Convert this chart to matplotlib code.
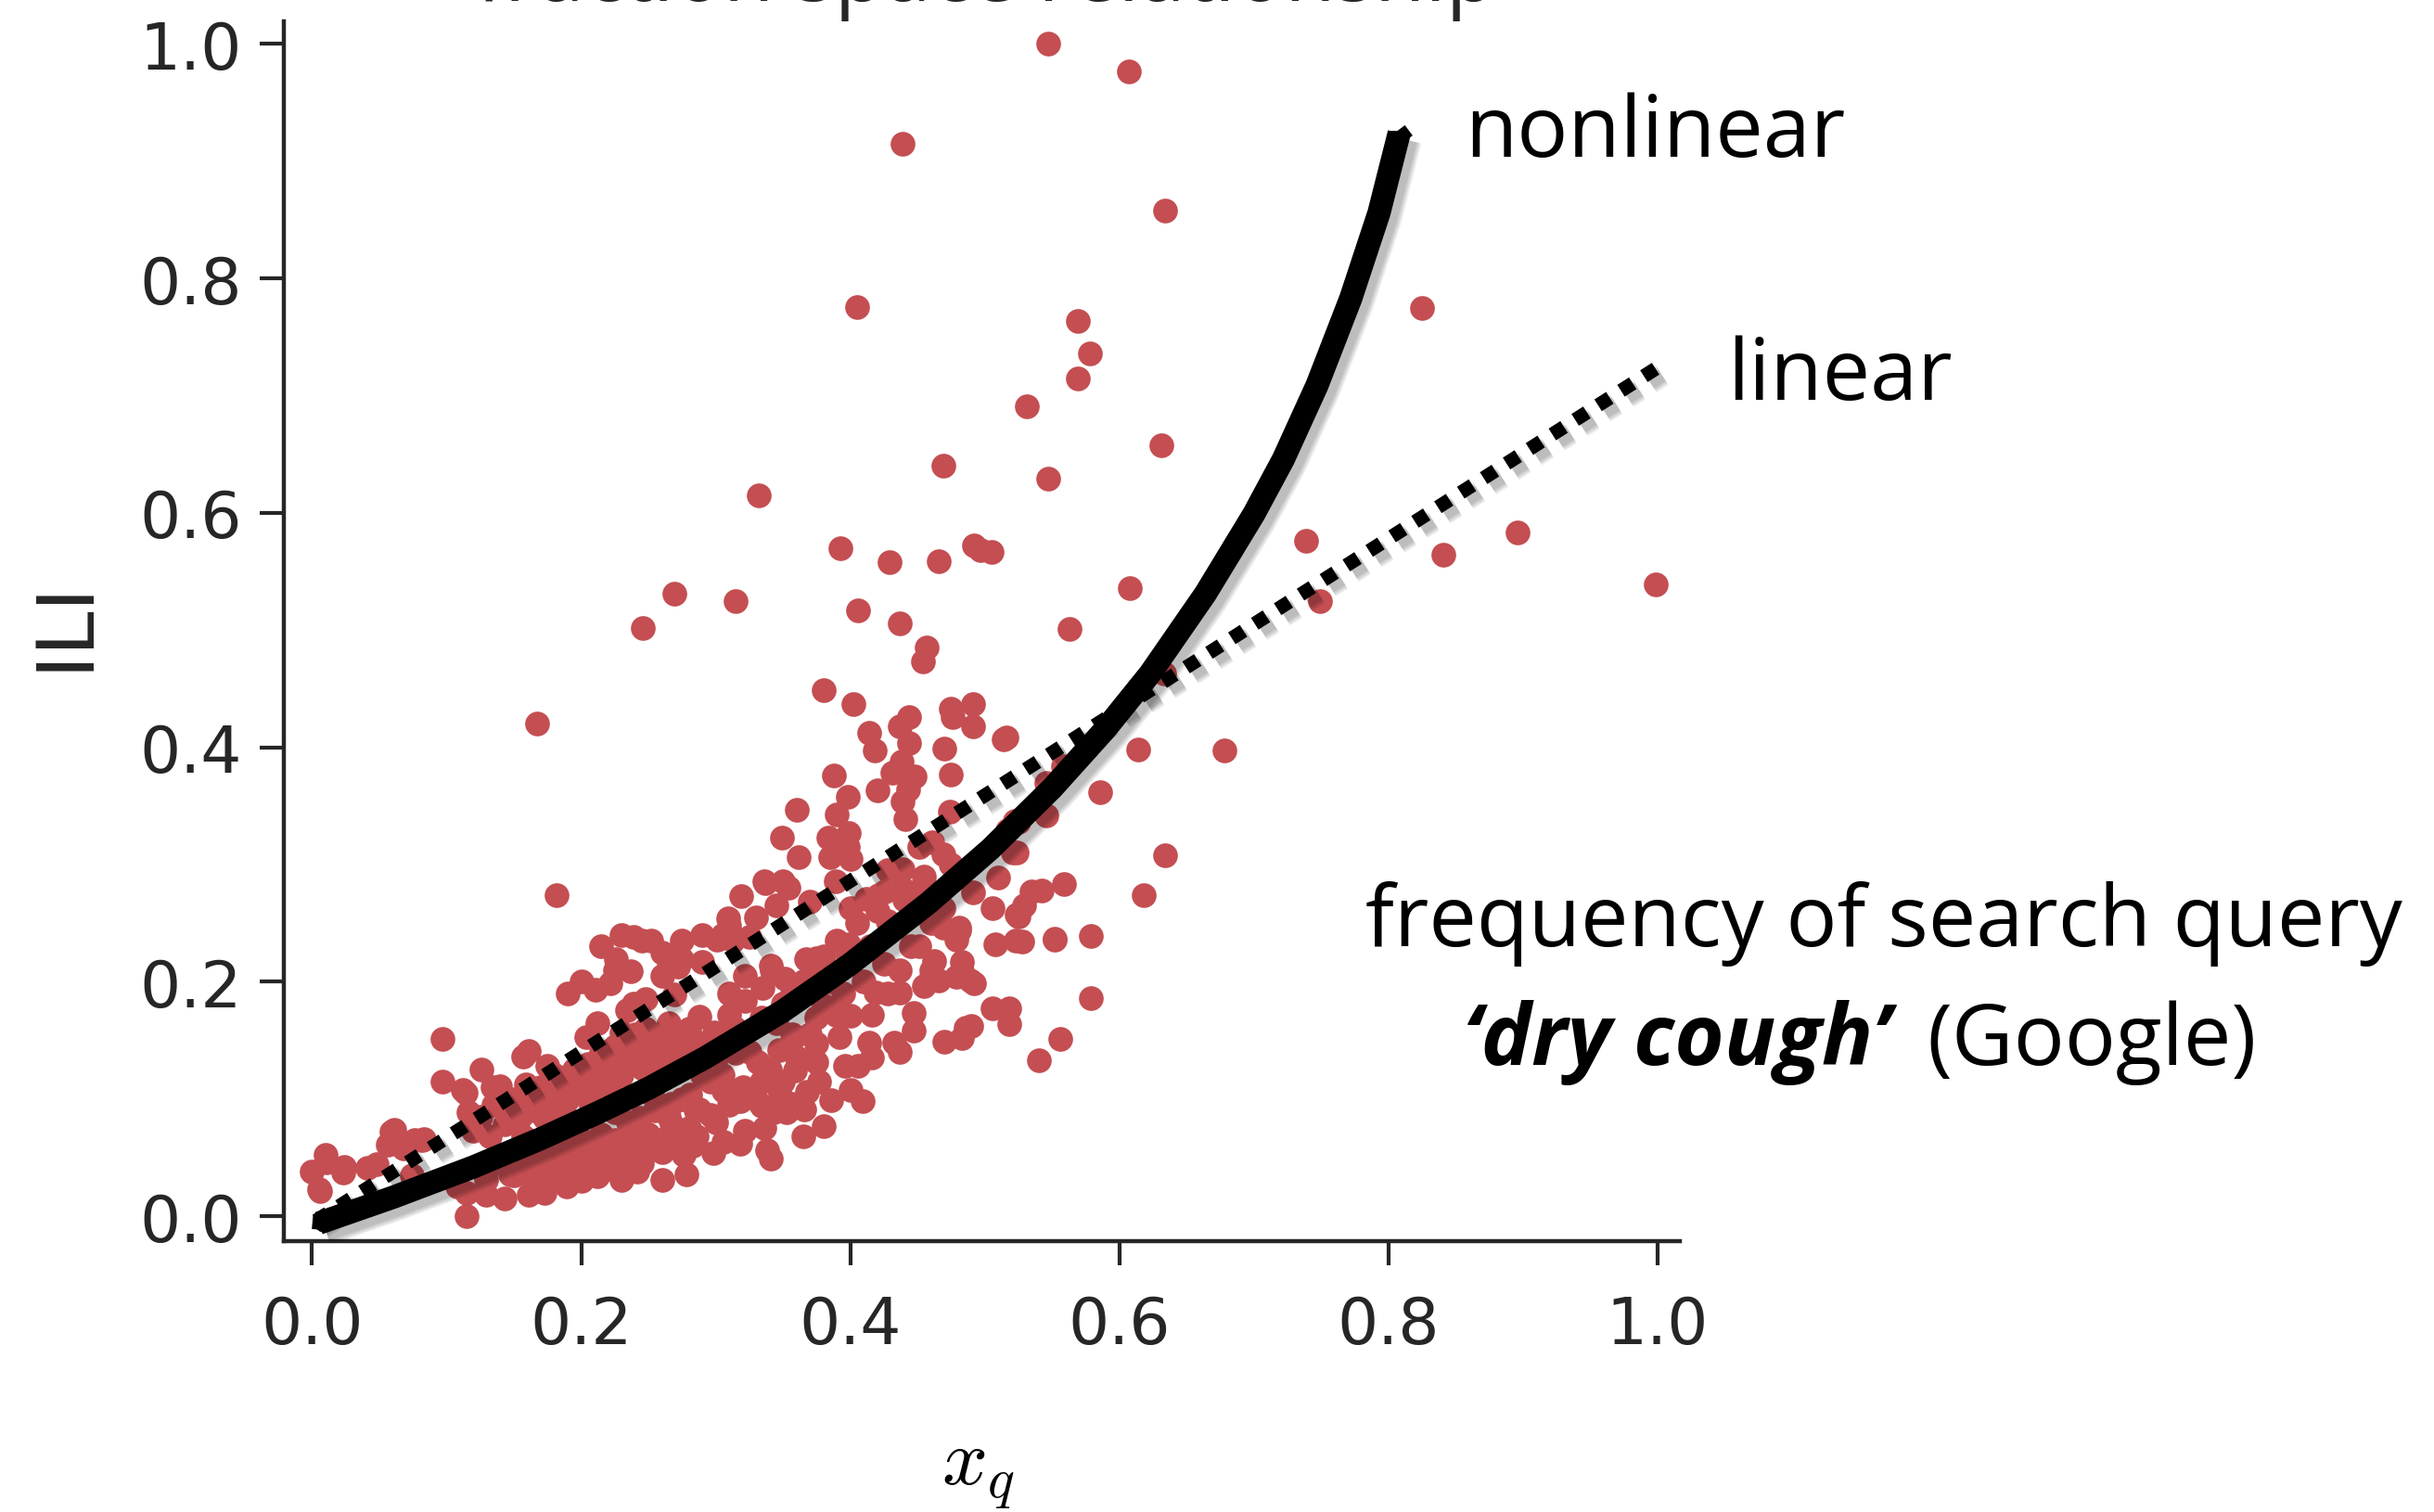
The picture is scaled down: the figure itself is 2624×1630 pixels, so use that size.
import matplotlib
matplotlib.use("Agg")
import matplotlib.pyplot as plt
import matplotlib.patheffects as pe
import numpy as np

plt.rcParams['mathtext.fontset'] = 'cm'

# weekly (query frequency, ILI rate) pairs, both scaled to [0, 1]
outlier_pts = [
    (0.547, 1.000), (0.607, 0.977), (0.439, 0.915), (0.634, 0.858), (0.405, 0.776),
    (0.825, 0.775), (0.569, 0.764), (0.578, 0.736), (0.569, 0.715), (0.531, 0.691),
    (0.631, 0.658), (0.469, 0.640), (0.547, 0.629), (0.332, 0.615), (0.739, 0.576),
    (0.896, 0.583), (0.841, 0.564), (0.999, 0.539), (0.749, 0.525), (0.393, 0.570),
    (0.429, 0.558), (0.466, 0.559), (0.492, 0.572), (0.497, 0.568), (0.505, 0.567),
    (0.269, 0.531), (0.315, 0.525), (0.246, 0.502), (0.406, 0.517), (0.437, 0.506),
    (0.457, 0.485), (0.454, 0.473), (0.563, 0.501), (0.608, 0.536), (0.167, 0.420),
    (0.678, 0.397), (0.614, 0.398), (0.586, 0.362), (0.634, 0.308), (0.618, 0.274),
    (0.182, 0.274), (0.633, 0.463),
]

low_pts = [
    (0.097, 0.151), (0.097, 0.115), (0.112, 0.108), (0.061, 0.074), (0.056, 0.061),
    (0.076, 0.065), (0.083, 0.066), (0.011, 0.046), (0.000, 0.038), (0.023, 0.037),
    (0.005, 0.023), (0.041, 0.041), (0.048, 0.044), (0.074, 0.035), (0.115, 0.000),
    (0.116, 0.089), (0.120, 0.073), (0.134, 0.110), (0.140, 0.111), (0.157, 0.136),
    (0.161, 0.141), (0.175, 0.128), (0.159, 0.112), (0.166, 0.102), (0.182, 0.107),
    (0.193, 0.112), (0.203, 0.120), (0.212, 0.165), (0.204, 0.153), (0.218, 0.129),
    (0.221, 0.110), (0.230, 0.157), (0.232, 0.135), (0.239, 0.181), (0.248, 0.160),
    (0.248, 0.185), (0.211, 0.193), (0.222, 0.199), (0.237, 0.209), (0.225, 0.210),
    (0.260, 0.205), (0.272, 0.213), (0.269, 0.189), (0.288, 0.170), (0.278, 0.147),
    (0.258, 0.131), (0.246, 0.126), (0.281, 0.104), (0.267, 0.096), (0.267, 0.078),
    (0.258, 0.065), (0.244, 0.084), (0.235, 0.068), (0.283, 0.060), (0.278, 0.036),
    (0.260, 0.031), (0.242, 0.038), (0.230, 0.031), (0.212, 0.034), (0.200, 0.044),
    (0.189, 0.025), (0.173, 0.020), (0.161, 0.018), (0.143, 0.015), (0.129, 0.018),
    (0.115, 0.020), (0.129, 0.031), (0.147, 0.036), (0.170, 0.046), (0.182, 0.057),
    (0.198, 0.068), (0.212, 0.057), (0.223, 0.052), (0.157, 0.068), (0.143, 0.078),
    (0.132, 0.068), (0.173, 0.084), (0.189, 0.084), (0.207, 0.094), (0.182, 0.094),
    (0.253, 0.104), (0.288, 0.091), (0.286, 0.068), (0.276, 0.052), (0.246, 0.057),
    (0.225, 0.089), (0.207, 0.107), (0.108, 0.025), (0.290, 0.120), (0.285, 0.149),
    (0.234, 0.176), (0.010, 0.052), (0.006, 0.021), (0.024, 0.042), (0.068, 0.058),
    (0.082, 0.065), (0.059, 0.072), (0.114, 0.105), (0.126, 0.125),
    (0.125, 0.085), (0.135, 0.095), (0.145, 0.090), (0.150, 0.100), (0.155, 0.085),
    (0.165, 0.090), (0.170, 0.110), (0.175, 0.100), (0.180, 0.120), (0.185, 0.115),
    (0.190, 0.100), (0.195, 0.125), (0.200, 0.105), (0.205, 0.130), (0.210, 0.120),
    (0.215, 0.140), (0.220, 0.125), (0.225, 0.145), (0.230, 0.120), (0.235, 0.140),
    (0.240, 0.155), (0.245, 0.145), (0.250, 0.135), (0.255, 0.155), (0.260, 0.145),
    (0.265, 0.165), (0.270, 0.150), (0.275, 0.135), (0.280, 0.160), (0.285, 0.140),
    (0.130, 0.040), (0.140, 0.050), (0.150, 0.035), (0.155, 0.055), (0.160, 0.040),
    (0.165, 0.030), (0.170, 0.060), (0.175, 0.035), (0.180, 0.045), (0.185, 0.035),
    (0.190, 0.060), (0.195, 0.045), (0.200, 0.030), (0.205, 0.060), (0.210, 0.045),
    (0.215, 0.070), (0.220, 0.040), (0.225, 0.065), (0.230, 0.050), (0.235, 0.080),
    (0.240, 0.060), (0.245, 0.045), (0.250, 0.070), (0.255, 0.090), (0.260, 0.055),
    (0.265, 0.085), (0.270, 0.065), (0.275, 0.100), (0.280, 0.075), (0.285, 0.090),
    (0.190, 0.190), (0.200, 0.200), (0.215, 0.230), (0.230, 0.240), (0.245, 0.235),
    (0.260, 0.225), (0.275, 0.235), (0.290, 0.240),
]

mid_pts = [
    (0.579, 0.186), (0.556, 0.151), (0.540, 0.133), (0.518, 0.177), (0.518, 0.164),
    (0.486, 0.161), (0.483, 0.152), (0.470, 0.149), (0.492, 0.199), (0.483, 0.209),
    (0.466, 0.201), (0.455, 0.196), (0.460, 0.210), (0.447, 0.173), (0.447, 0.158),
    (0.437, 0.210), (0.437, 0.191), (0.428, 0.190), (0.419, 0.191), (0.416, 0.172),
    (0.433, 0.148), (0.437, 0.140), (0.414, 0.148), (0.416, 0.135), (0.406, 0.128),
    (0.396, 0.128), (0.392, 0.153), (0.400, 0.171), (0.389, 0.172), (0.375, 0.169),
    (0.375, 0.147), (0.375, 0.131), (0.377, 0.115), (0.386, 0.099), (0.400, 0.108),
    (0.409, 0.098), (0.380, 0.077), (0.365, 0.068), (0.368, 0.106), (0.359, 0.124),
    (0.358, 0.153), (0.347, 0.108), (0.357, 0.096), (0.366, 0.091), (0.353, 0.089),
    (0.334, 0.115), (0.334, 0.094), (0.343, 0.089), (0.336, 0.075), (0.322, 0.073),
    (0.318, 0.062), (0.306, 0.063), (0.298, 0.054), (0.338, 0.056), (0.341, 0.049),
    (0.296, 0.086), (0.318, 0.098), (0.306, 0.107), (0.296, 0.115), (0.299, 0.157),
    (0.310, 0.172), (0.310, 0.190), (0.322, 0.205), (0.342, 0.210), (0.351, 0.203),
    (0.370, 0.205), (0.322, 0.184), (0.334, 0.169), (0.350, 0.181), (0.357, 0.155),
    (0.347, 0.142), (0.331, 0.131), (0.315, 0.139), (0.301, 0.136), (0.391, 0.171),
    (0.300, 0.080), (0.305, 0.120), (0.310, 0.095), (0.315, 0.160), (0.320, 0.110),
    (0.325, 0.140), (0.330, 0.100), (0.335, 0.195), (0.340, 0.125), (0.345, 0.165),
    (0.350, 0.115), (0.355, 0.185), (0.360, 0.135), (0.365, 0.200), (0.370, 0.155),
    (0.375, 0.220), (0.380, 0.180), (0.385, 0.200), (0.390, 0.235), (0.395, 0.190),
    (0.400, 0.215), (0.405, 0.250), (0.410, 0.200), (0.415, 0.230), (0.420, 0.260),
    (0.425, 0.215), (0.430, 0.245), (0.440, 0.270), (0.445, 0.230), (0.450, 0.260),
    (0.455, 0.290), (0.460, 0.250), (0.305, 0.240),
]

high_pts = [
    (0.380, 0.449), (0.402, 0.437), (0.444, 0.426), (0.437, 0.418), (0.414, 0.412),
    (0.418, 0.397), (0.444, 0.404), (0.438, 0.388), (0.431, 0.378), (0.448, 0.375),
    (0.388, 0.376), (0.420, 0.363), (0.443, 0.364), (0.439, 0.354), (0.441, 0.339),
    (0.398, 0.358), (0.390, 0.343), (0.360, 0.347), (0.349, 0.323), (0.384, 0.323),
    (0.399, 0.327), (0.398, 0.315), (0.385, 0.306), (0.400, 0.305), (0.362, 0.306),
    (0.389, 0.286), (0.337, 0.284), (0.350, 0.286), (0.354, 0.280), (0.370, 0.268),
    (0.439, 0.296), (0.428, 0.295), (0.439, 0.279), (0.448, 0.276), (0.426, 0.277),
    (0.412, 0.271), (0.400, 0.263), (0.421, 0.274), (0.428, 0.252), (0.451, 0.315),
    (0.309, 0.254), (0.301, 0.236), (0.313, 0.235), (0.325, 0.238), (0.239, 0.238),
    (0.252, 0.235), (0.226, 0.219), (0.265, 0.217), (0.275, 0.219), (0.290, 0.217),
    (0.341, 0.214), (0.367, 0.219), (0.380, 0.222), (0.399, 0.232), (0.398, 0.223),
    (0.475, 0.433), (0.491, 0.437), (0.476, 0.426), (0.491, 0.418), (0.516, 0.408),
    (0.470, 0.399), (0.475, 0.377), (0.558, 0.384), (0.546, 0.370), (0.474, 0.345),
    (0.546, 0.342), (0.522, 0.337), (0.517, 0.329), (0.461, 0.319), (0.469, 0.309),
    (0.475, 0.300), (0.521, 0.310), (0.510, 0.289), (0.491, 0.276), (0.542, 0.278),
    (0.559, 0.283), (0.506, 0.263), (0.529, 0.265), (0.525, 0.256), (0.469, 0.263),
    (0.469, 0.246), (0.481, 0.246), (0.479, 0.236), (0.508, 0.232), (0.523, 0.235),
    (0.552, 0.236), (0.579, 0.239), (0.462, 0.218), (0.483, 0.217),
    (0.319, 0.273), (0.310, 0.248), (0.336, 0.286), (0.345, 0.265), (0.330, 0.255),
    (0.481, 0.244), (0.524, 0.257), (0.528, 0.234), (0.535, 0.277), (0.552, 0.237),
    (0.524, 0.310), (0.479, 0.204), (0.489, 0.201), (0.451, 0.230), (0.460, 0.204),
    (0.514, 0.407), (0.525, 0.336), (0.506, 0.177), (0.490, 0.162),
]

# fitted relationships
curve_x = [0.005, 0.06, 0.12, 0.17, 0.212, 0.25, 0.292, 0.35, 0.40, 0.458, 0.504,
           0.55, 0.59, 0.623, 0.664, 0.70, 0.722, 0.747, 0.772, 0.793, 0.808]
curve_y = [-0.006, 0.016, 0.042, 0.066, 0.088, 0.109, 0.135, 0.175, 0.215, 0.267, 0.313,
           0.365, 0.416, 0.463, 0.531, 0.599, 0.646, 0.709, 0.783, 0.856, 0.924]
line_x = [0.003, 1.0]
line_y = [-0.004, 0.724]

ticks = [0.0, 0.2, 0.4, 0.6, 0.8, 1.0]
ink = '#262626'
red = '#C44E52'

pts = np.array(outlier_pts + low_pts + mid_pts + high_pts)

fig = plt.figure(figsize=(13.12, 8.155), dpi=200)
ax = fig.add_axes([0.1166, 0.179, 0.5735, 0.806])

ax.scatter(pts[:, 0], pts[:, 1], s=92, color=red, linewidths=0, zorder=2)


def soft_shadow(lw):
    fx = []
    for k in range(4):
        fx.append(pe.SimpleLineShadow(offset=(2.5, -2.5), shadow_color='black',
                                      alpha=0.07, linewidth=lw + 1.2 * k))
    fx.append(pe.Normal())
    return fx


ax.plot(line_x, line_y, color='black', lw=5.4, dashes=(1, 0.95), dash_capstyle='butt',
        zorder=3, path_effects=soft_shadow(5.4))

# chalky "nonlinear" fit: a thick stroke plus a jittered one for ragged edges
ax.plot(curve_x, curve_y, color='black', lw=9, solid_capstyle='butt',
        solid_joinstyle='round', zorder=4, path_effects=soft_shadow(9))
rough, = ax.plot(curve_x, curve_y, color='black', lw=5, zorder=5)
rough.set_sketch_params(scale=5, length=5, randomness=14)

ax.set_xlim(-0.021, 1.0165)
ax.set_ylim(-0.0214, 1.019)
ax.set_xticks(ticks)
ax.set_yticks(ticks)
ax.set_xticklabels([f'{t:.1f}' for t in ticks])
ax.set_yticklabels([f'{t:.1f}' for t in ticks])
ax.tick_params(axis='both', length=9.4, width=1.5, color=ink, labelcolor=ink, labelsize=25)
ax.tick_params(axis='x', pad=11)
ax.tick_params(axis='y', pad=7)
for side in ['top', 'right']:
    ax.spines[side].set_visible(False)
for side in ['left', 'bottom']:
    ax.spines[side].set_linewidth(1.6)
    ax.spines[side].set_color(ink)

ax.set_ylabel('ILI', fontsize=31, color=ink, va='center')
ax.yaxis.set_label_coords(-0.157, 0.506)
ax.set_xlabel('$x_q$', fontsize=31, color='black', va='baseline')
ax.xaxis.set_label_coords(0.497, -0.1985)

txt = dict(fontsize=33, family='Open Sans', color='black', va='baseline', clip_on=False)
ax.text(0.857, 0.905, 'nonlinear', **txt)
ax.text(1.052, 0.697, 'linear', **txt)
ax.text(0.783, 0.231, 'frequency of search query', **txt)
ax.text(0.855, 0.130, '\u2018dry cough\u2019', fontweight='bold', fontstyle='italic', **txt)
ax.text(1.200, 0.130, '(Google)', **txt)

fig.text(1064 / 2624, 1 - 1 / 1631, 'fraction space relationship', ha='center',
         va='baseline', fontsize=32, family='Open Sans', color=ink)

fig.savefig('out.png', dpi=200)
